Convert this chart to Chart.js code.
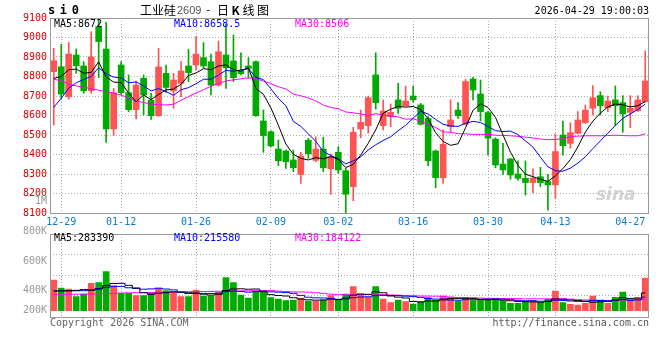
<!DOCTYPE html>
<html>
<head>
<meta charset="utf-8">
<script src="https://cdn.jsdelivr.net/npm/chart.js@4.4.1/dist/chart.umd.min.js"></script>
<style>
  body { margin: 0; background: #fff; width: 660px; height: 360px; position: relative; overflow: hidden;
         font-family: "DejaVu Sans Mono", monospace; font-size: 10px; }
  canvas { position: absolute; left: 0; }
  .t { position: absolute; line-height: 12px; white-space: pre; }
  .cjk { font-family: "Noto Sans CJK SC", sans-serif; font-size: 12px; line-height: 14px; }
</style>
</head>
<body>
<canvas id="kline" width="660" height="232" style="top:0"></canvas>
<canvas id="vol" width="660" height="170" style="top:190px"></canvas>

<!-- header -->
<div class="t" style="left:48px;top:4px;font-size:12px;font-weight:bold;letter-spacing:4.6px">si0</div>
<div class="t cjk" style="left:140px;top:3px">工业硅</div>
<div class="t" style="left:177px;top:4px;font-family:'Liberation Sans',sans-serif;font-size:11px;color:#555">2609</div>
<div class="t" style="left:205px;top:4px;font-size:11px">-</div>
<div class="t cjk" style="left:217px;top:3px;letter-spacing:2.6px">日<b>K</b>线图</div>
<div class="t" style="right:11px;top:5px">2026-04-29 19:00:03</div>

<!-- MA legends -->
<div class="t" style="left:54px;top:18px;color:#000">MA5:8672</div>
<div class="t" style="left:174px;top:18px;color:#0000ff">MA10:8658.5</div>
<div class="t" style="left:295px;top:18px;color:#ff00ff">MA30:8506</div>
<div class="t" style="left:54px;top:232px;color:#000">MA5:283390</div>
<div class="t" style="left:174px;top:232px;color:#0000ff">MA10:215580</div>
<div class="t" style="left:295px;top:232px;color:#ff00ff">MA30:184122</div>

<div id="volLabels"></div>

<div class="t" style="left:596px;top:188px;font-family:'DejaVu Sans',sans-serif;font-size:17px;font-weight:bold;font-style:italic;color:#d2d2d2">sina</div>

<div class="t" style="left:50px;top:317px;color:#666">Copyright 2026 SINA.COM</div>
<div class="t" style="right:11px;top:317px;color:#555">http://finance.sina.com.cn</div>

<script>
// ---- data ----
const dates = [
  "12-26","12-29","12-30","12-31","01-05","01-06","01-07","01-08","01-09",
  "01-12","01-13","01-14","01-15","01-16","01-19","01-20","01-21","01-22","01-23",
  "01-26","01-27","01-28","01-29","01-30","02-02","02-03","02-04","02-05","02-06",
  "02-09","02-10","02-11","02-12","02-13","02-24","02-25","02-26","02-27",
  "03-02","03-03","03-04","03-05","03-06","03-09","03-10","03-11","03-12","03-13",
  "03-16","03-17","03-18","03-19","03-20","03-23","03-24","03-25","03-26","03-27",
  "03-30","03-31","04-01","04-02","04-03","04-07","04-08","04-09","04-10",
  "04-13","04-14","04-15","04-16","04-17","04-20","04-21","04-22","04-23","04-24",
  "04-27","04-28","04-29"
];
const gridDates = ["12-29","01-12","01-26","02-09","03-02","03-16","03-30","04-13"];
const tickDates = ["12-29","01-12","01-26","02-09","03-02","03-16","03-30","04-13","04-27"];

const opens = [
  8825,8850,8696,8910,8854,8727,9056,8941,8531,8859,
  8717,8630,8791,8679,8599,8816,8726,8765,8854,8859,
  8897,8876,8756,8910,8880,8828,8854,8876,8572,8517,
  8428,8418,8372,8298,8473,8370,8428,8327,8411,8317,
  8235,8531,8548,8808,8548,8594,8680,8650,8700,8654,
  8585,8418,8281,8543,8628,8556,8787,8710,8615,8479,
  8351,8377,8300,8278,8256,8286,8261,8244,8500,8457,
  8509,8563,8637,8702,8640,8680,8666,8616,8625,8671
];
const highs = [
  8944,8965,8975,8941,8876,9030,9098,9078,8739,8876,
  8808,8777,8808,8714,8944,8859,8816,8876,8939,9004,
  8974,8915,8982,9070,9013,8922,8897,8881,8628,8522,
  8474,8423,8423,8411,8483,8491,8488,8403,8440,8329,
  8539,8628,8700,8922,8680,8659,8765,8751,8751,8662,
  8594,8423,8526,8680,8666,8785,8796,8782,8623,8486,
  8457,8380,8368,8367,8326,8334,8298,8505,8572,8563,
  8620,8654,8753,8722,8700,8751,8702,8702,8702,8931
];
const lows = [
  8551,8688,8684,8816,8714,8714,8794,8462,8497,8705,
  8620,8582,8603,8580,8595,8719,8637,8697,8774,8833,
  8842,8705,8750,8739,8774,8808,8791,8595,8411,8440,
  8343,8329,8312,8252,8380,8363,8312,8196,8303,8098,
  8163,8486,8509,8633,8526,8543,8611,8648,8668,8551,
  8343,8230,8252,8517,8585,8552,8680,8572,8397,8332,
  8298,8273,8269,8192,8204,8235,8115,8175,8397,8432,
  8505,8560,8603,8603,8620,8548,8514,8538,8620,8667
];
const closes = [
  8881,8710,8915,8855,8726,8900,8979,8531,8717,8717,
  8630,8756,8705,8599,8849,8744,8782,8828,8820,8915,
  8854,8756,8927,8845,8794,8815,8842,8599,8497,8444,
  8368,8363,8332,8392,8404,8428,8332,8389,8321,8196,
  8514,8565,8691,8666,8623,8616,8637,8674,8680,8555,
  8368,8281,8452,8577,8599,8774,8731,8620,8484,8346,
  8321,8295,8278,8256,8278,8256,8244,8415,8445,8512,
  8577,8628,8691,8650,8674,8650,8608,8637,8680,8777
];
const ma5 = [
  8790,8800,8835,8838,8817,8821,8875,8798,8771,8769,
  8715,8670,8705,8681,8708,8731,8736,8760,8805,8818,
  8840,8835,8854,8859,8835,8827,8845,8739,8709,8639,
  8550,8454,8401,8380,8372,8384,8378,8389,8375,8333,
  8350,8397,8457,8526,8612,8632,8647,8643,8646,8632,
  8583,8512,8467,8447,8455,8537,8627,8660,8641,8590,
  8500,8412,8344,8299,8286,8273,8262,8290,8328,8374,
  8439,8515,8571,8612,8644,8659,8655,8644,8650,8672
];
const ma10 = [
  8642,8688,8740,8768,8785,8800,8845,8815,8797,8793,
  8768,8772,8752,8726,8738,8723,8703,8732,8743,8763,
  8786,8786,8807,8832,8826,8834,8840,8796,8784,8737,
  8688,8650,8570,8544,8506,8467,8416,8395,8378,8352,
  8367,8388,8423,8450,8472,8491,8522,8550,8586,8622,
  8608,8580,8555,8546,8544,8560,8570,8564,8544,8522,
  8518,8520,8502,8470,8438,8386,8337,8317,8314,8330,
  8356,8388,8430,8470,8509,8549,8585,8608,8631,8658.5
];
const ma30 = [
  8786,8778,8760,8752,8745,8738,8730,8722,8714,8705,
  8690,8675,8667,8658,8655,8654,8658,8678,8697,8715,
  8733,8750,8765,8777,8783,8788,8793,8790,8776,8764,
  8747,8736,8710,8701,8690,8675,8653,8641,8635,8618,
  8614,8608,8600,8609,8602,8597,8593,8581,8583,8571,
  8554,8539,8516,8514,8507,8506,8503,8503,8503,8499,
  8498,8496,8493,8489,8485,8479,8476,8477,8481,8492,
  8494,8496,8496,8496,8497,8499,8497,8496,8496,8506
];

// volume, in thousands of lots
const volK = [
  491,363,347,224,267,438,448,624,400,278,
  278,240,240,278,363,320,304,224,224,331,
  235,235,288,528,448,251,203,304,315,208,
  187,160,171,203,155,155,171,240,171,267,
  384,267,214,384,187,128,171,144,107,144,
  208,171,235,214,155,214,160,171,171,182,
  155,118,118,150,160,128,182,315,128,102,
  91,118,235,171,118,214,299,182,203,523
];
const volMa5K = [
  315,318,320,325,338,328,345,400,435,438,
  406,364,287,263,280,288,301,298,287,281,
  264,250,263,323,347,350,344,347,304,256,
  243,235,208,186,175,169,171,185,178,201,
  247,266,261,303,287,236,217,203,147,139,
  155,155,173,194,197,198,196,183,174,180,
  168,159,149,145,140,135,148,187,183,171,
  164,151,135,143,147,171,207,197,203,283.39
];
const volMa10K = [
  315,315,316,318,320,330,355,370,385,388,
  367,354.5,343.5,349,359,347,332.5,292.5,275,280.5,
  276,275.5,280.5,305,314,307,297,305,313.5,301.5,
  296.5,289.5,277.5,245,215.5,206,203,196.5,182,188,
  208,218.5,223,240.5,244,241.5,241.5,232,225,213,
  195.5,186,188,170.5,168,176.5,175.5,178,184,188.5,
  183,177.5,166,159.5,160,151.5,153.5,168,164,155.5,
  149.5,149.5,161,163,159,167.5,179,166,173,215.58
];
const volMa30K = [
  262,262,263,264,265,267,270,274,278,282,
  285,288,290,292,295,298,300,302,304,305,
  306,308,310,312,315,317,319,321,322,323.3,
  313.2,306.5,300.5,299.7,296.2,286.7,277.5,264.7,256.8,256.7,
  260.2,261.2,260.3,263.5,257.8,251.5,247.2,244.5,240.2,234.2,
  233.3,231.3,229.5,218.7,209.2,208,206.7,202.2,197,196.5,
  195.5,194,192.3,190.2,190.7,189.8,190.2,192.7,191,185.7,
  176,171,171.7,164.3,162.3,165.2,169.3,170.7,173.7,184.122
];
const volTickLabels = ["1M", "800K", "600K", "400K", "200K"];

const PRICE_MIN = 8100, PRICE_MAX = 9100, PRICE_STEP = 100;
const VOL_MIN = -93000, VOL_MAX = 1227000;

// ---- styles ----
const UP = "#ff5454", DOWN = "#00aa00", GRID = "#aaaaaa";
Chart.defaults.font.family = '"DejaVu Sans Mono", monospace';
Chart.defaults.font.size = 10;

const candleColors = closes.map((c, i) => c >= opens[i] ? UP : DOWN);
const k = v => v * 1000;

// vertical grid only on the labelled dates (not the last one)
const xGridColor = ctx => (ctx.tick && gridDates.includes(dates[ctx.tick.value])) ? GRID : "rgba(0,0,0,0)";

const frame = {
  id: "frame",
  afterDraw(chart) {
    const { ctx, chartArea: a } = chart;
    ctx.save();
    ctx.strokeStyle = "#9a9a9a";
    ctx.lineWidth = 1;
    ctx.strokeRect(Math.round(a.left) + 0.5, Math.round(a.top) + 0.5,
                   Math.round(a.right - a.left) - 1, Math.round(a.bottom - a.top));
    ctx.restore();
  }
};

const lineDs = (data, color, order, extra) => Object.assign({
  type: "line", data, borderColor: color, borderWidth: 1, pointRadius: 0, tension: 0, order
}, extra || {});

// -------- K-line ----------
new Chart(document.getElementById("kline"), {
  type: "bar",
  data: {
    labels: dates,
    datasets: [
      lineDs(ma5, "#000000", 0),
      lineDs(ma10, "#0000ff", 1),
      lineDs(ma30, "#ff00ff", 2),
      { data: opens.map((o, i) => [o, closes[i]]), backgroundColor: candleColors,
        barThickness: 6, minBarLength: 1, grouped: false, order: 3 },
      { data: lows.map((l, i) => [l, highs[i]]), backgroundColor: candleColors,
        barThickness: 1, grouped: false, order: 4 }
    ]
  },
  options: {
    responsive: false,
    animation: false,
    layout: { padding: { top: 18, right: 11, left: 0, bottom: 0 } },
    plugins: { legend: { display: false }, tooltip: { enabled: false } },
    scales: {
      x: {
        offset: true,
        grid: { offset: false, drawTicks: false, color: xGridColor },
        border: { display: false, dash: [1, 2] },
        ticks: {
          autoSkip: false, maxRotation: 0, padding: 3, color: "#0a7ad2",
          callback: (v, i) => tickDates.includes(dates[i]) ? dates[i] : ""
        },
        afterFit: s => { s.height = 19; }
      },
      y: {
        min: PRICE_MIN, max: PRICE_MAX,
        ticks: { stepSize: PRICE_STEP, color: "#e00000", padding: 3, callback: v => String(v) },
        grid: { drawTicks: false, color: GRID },
        border: { display: false, dash: [1, 2] },
        afterFit: s => { s.width = 50; }
      }
    }
  },
  plugins: [frame]
});

// -------- Volume ----------
new Chart(document.getElementById("vol"), {
  type: "bar",
  data: {
    labels: dates,
    datasets: [
      lineDs(volMa5K.map(k), "#000000", 0, { stepped: "middle" }),
      lineDs(volMa10K.map(k), "#0000ff", 1, { stepped: "middle" }),
      lineDs(volMa30K.map(k), "#ff00ff", 2, { stepped: "middle" }),
      { data: volK.map(k), backgroundColor: candleColors, barThickness: 6, order: 3 }
    ]
  },
  options: {
    responsive: false,
    animation: false,
    layout: { padding: { top: 44, right: 11, left: 0, bottom: 43.5 } },
    plugins: { legend: { display: false }, tooltip: { enabled: false } },
    scales: {
      x: {
        offset: true,
        grid: { offset: false, drawTicks: false, color: xGridColor },
        border: { display: false, dash: [1, 2] },
        ticks: { display: false, autoSkip: false },
        afterFit: s => { s.height = 0; }
      },
      y: {
        min: VOL_MIN, max: VOL_MAX,
        afterBuildTicks: s => {
          s.ticks = [0, 1, 2, 3, 4].map(i => ({ value: VOL_MIN + i * (VOL_MAX - VOL_MIN) / 4 }));
        },
        ticks: { display: false },
        grid: { drawTicks: false, color: c => (c.index === 0 || c.index === 4) ? "rgba(0,0,0,0)" : GRID },
        border: { display: false, dash: [1, 2] },
        afterFit: s => { s.width = 50; }
      }
    }
  },
  plugins: [frame]
});

// volume axis labels (Sina places them unevenly)
const volLabelTops = [195, 225, 255, 284, 304];
document.getElementById("volLabels").innerHTML = volTickLabels.map((t, i) =>
  `<div class="t" style="right:613px;top:${volLabelTops[i]}px;color:#999">${t}</div>`).join("");
</script>
</body>
</html>
